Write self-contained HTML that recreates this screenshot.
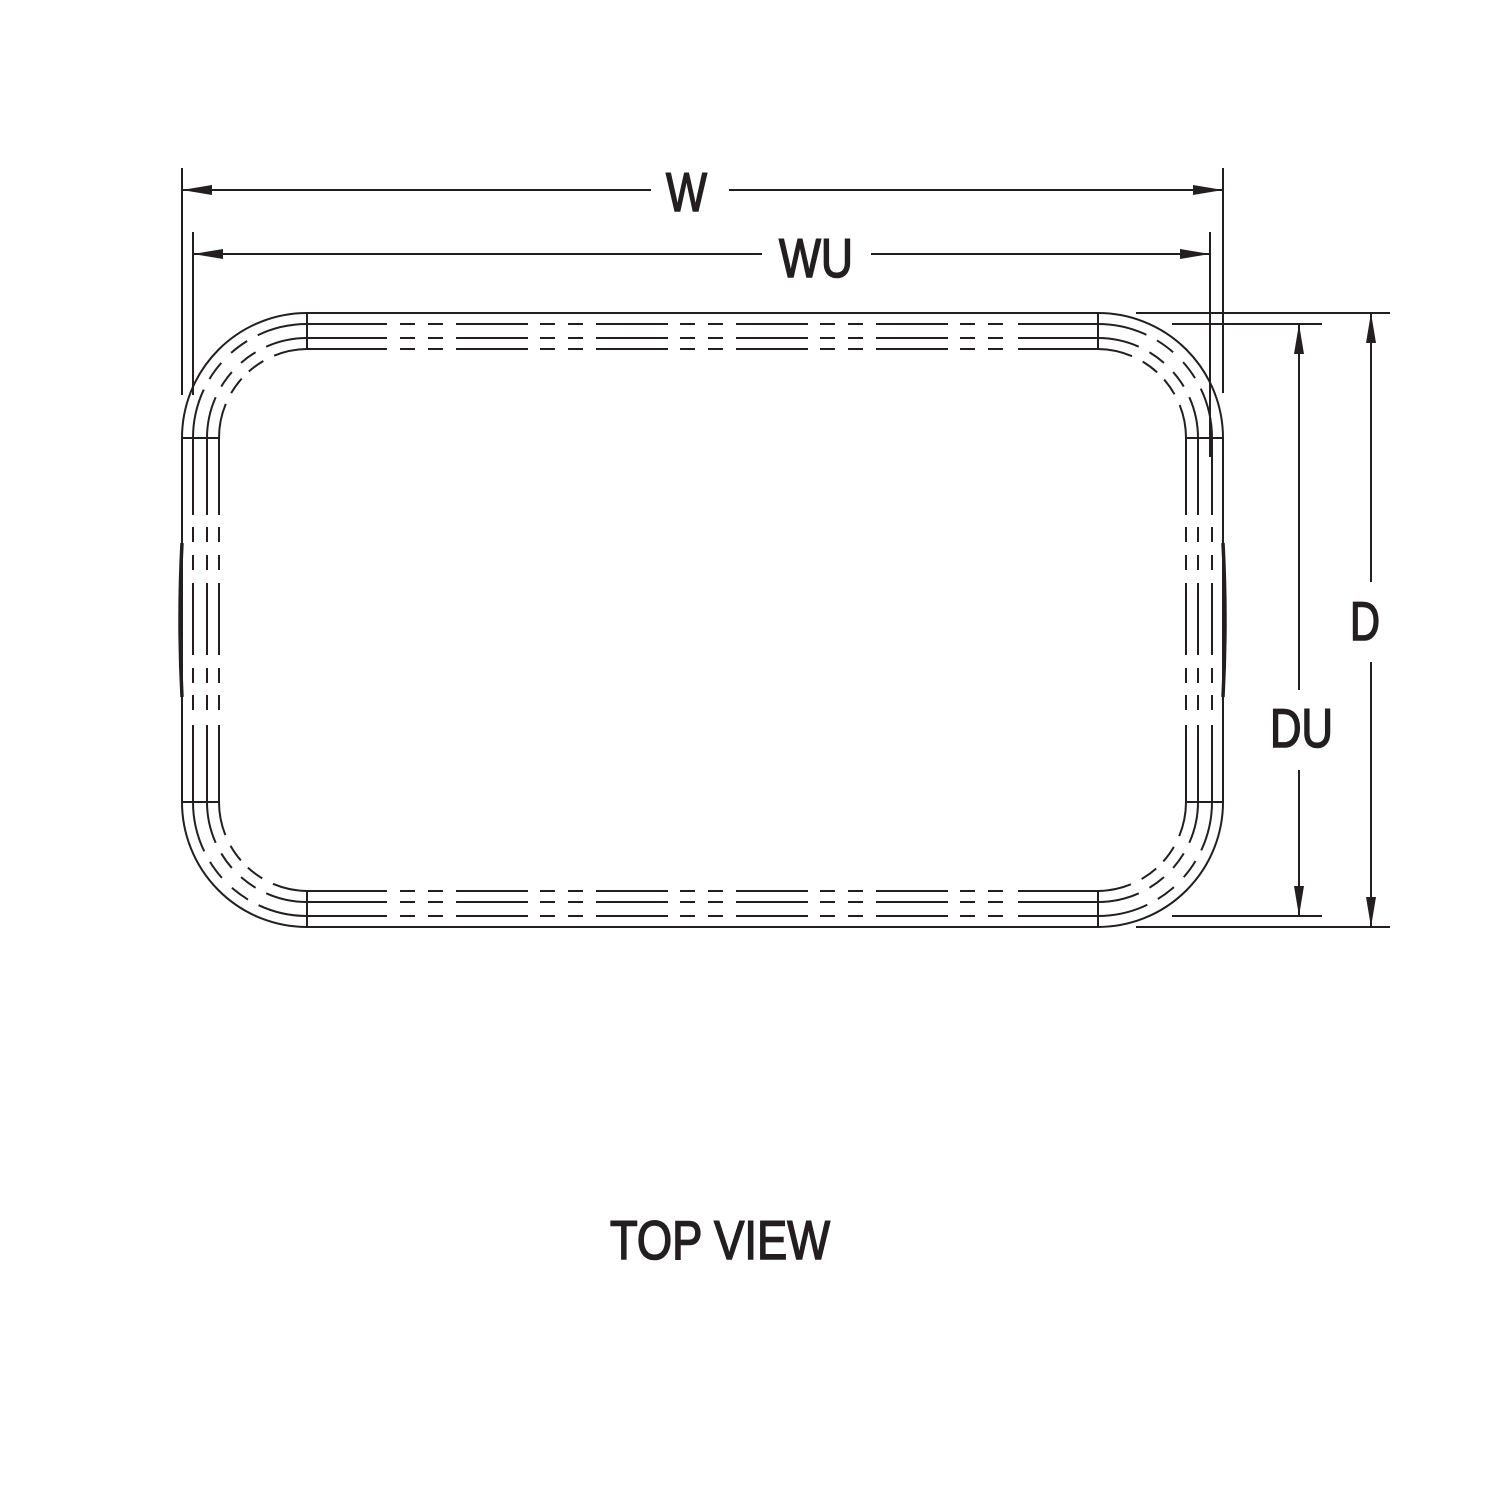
<!DOCTYPE html>
<html><head><meta charset="utf-8"><style>html,body{margin:0;padding:0;background:#fff}svg{display:block}</style></head>
<body>
<svg width="1500" height="1500" viewBox="0 0 1500 1500" xmlns="http://www.w3.org/2000/svg">
<defs>
<marker id="a" viewBox="0 0 30 10" refX="30" refY="5" markerWidth="30" markerHeight="10" markerUnits="userSpaceOnUse" orient="auto"><path d="M0 0L30 5L0 10z" fill="#231f20"/></marker>
</defs>
<g stroke="#231f20" stroke-width="2" fill="none">
<path d="M307 313H1098A125 125 0 0 1 1223 438V802A125 125 0 0 1 1098 927H307A125 125 0 0 1 182 802V438A125 125 0 0 1 307 313Z"/>
<g stroke-dasharray="80 13 15 13 15 13 72 12 15 13 15 13 72 12 15 13 15 13 72 12 15 13 15 13 72 12 15 13 15 15 80">
<line x1="307" y1="324" x2="1098" y2="324"/><line x1="307" y1="338" x2="1098" y2="338"/><line x1="307" y1="349" x2="1098" y2="349"/>
<line x1="307" y1="916" x2="1098" y2="916"/><line x1="307" y1="902" x2="1098" y2="902"/><line x1="307" y1="891" x2="1098" y2="891"/>
</g>
<g stroke-dasharray="77 12 15 13 15 13 72 13 15 12 15 15 77">
<line x1="193" y1="438" x2="193" y2="802"/><line x1="207" y1="438" x2="207" y2="802"/><line x1="219" y1="438" x2="219" y2="802"/>
<line x1="1212" y1="438" x2="1212" y2="802"/><line x1="1198" y1="438" x2="1198" y2="802"/><line x1="1186" y1="438" x2="1186" y2="802"/>
</g>
<g stroke-dasharray="50 12 20 14 20 12 51">
<path d="M193 438A114 114 0 0 1 307 324"/><path d="M1098 324A114 114 0 0 1 1212 438"/><path d="M1212 802A114 114 0 0 1 1098 916"/><path d="M307 916A114 114 0 0 1 193 802"/>
</g>
<g stroke-dasharray="42 12 18 13 18 12 42">
<path d="M207 438A100 100 0 0 1 307 338"/><path d="M1098 338A100 100 0 0 1 1198 438"/><path d="M1198 802A100 100 0 0 1 1098 902"/><path d="M307 902A100 100 0 0 1 207 802"/>
</g>
<g stroke-dasharray="35 12 18 10 18 12 35">
<path d="M219 438A89 89 0 0 1 307 349"/><path d="M1098 349A89 89 0 0 1 1186 438"/><path d="M1186 802A89 89 0 0 1 1098 891"/><path d="M307 891A89 89 0 0 1 219 802"/>
</g>
<line x1="307" y1="313" x2="307" y2="349"/><line x1="1098" y1="313" x2="1098" y2="349"/>
<line x1="307" y1="891" x2="307" y2="927"/><line x1="1098" y1="891" x2="1098" y2="927"/>
<line x1="182" y1="438" x2="219" y2="438"/><line x1="182" y1="802" x2="219" y2="802"/>
<line x1="1186" y1="438" x2="1223" y2="438"/><line x1="1186" y1="802" x2="1223" y2="802"/>
<path d="M182 543Q178 620 182 697" stroke-width="3.5"/>
<path d="M1223 543Q1227 620 1223 697" stroke-width="3.5"/>
<line x1="182" y1="168" x2="182" y2="395"/><line x1="193" y1="232" x2="193" y2="395"/>
<line x1="1223" y1="168" x2="1223" y2="393"/><line x1="1210" y1="232" x2="1210" y2="457"/>
<line x1="1136" y1="313" x2="1390" y2="313"/><line x1="1172" y1="324" x2="1322" y2="324"/>
<line x1="1136" y1="927" x2="1390" y2="927"/><line x1="1172" y1="916" x2="1322" y2="916"/>
<line x1="651" y1="190" x2="182" y2="190" marker-end="url(#a)"/><line x1="729" y1="190" x2="1223" y2="190" marker-end="url(#a)"/>
<line x1="762" y1="254" x2="193" y2="254" marker-end="url(#a)"/><line x1="871" y1="254" x2="1210" y2="254" marker-end="url(#a)"/>
<line x1="1371" y1="582" x2="1371" y2="313" marker-end="url(#a)"/><line x1="1371" y1="662" x2="1371" y2="927" marker-end="url(#a)"/>
<line x1="1299" y1="690" x2="1299" y2="324" marker-end="url(#a)"/><line x1="1299" y1="770" x2="1299" y2="916" marker-end="url(#a)"/>
</g>
<g fill="#231f20" stroke="#231f20" stroke-width="1.6" font-family="'Liberation Sans Narrow','Liberation Sans',sans-serif" font-size="55">
<text x="666" y="211" textLength="41" lengthAdjust="spacingAndGlyphs">W</text>
<text x="779" y="277" textLength="74" lengthAdjust="spacingAndGlyphs">WU</text>
<text x="1350" y="640" textLength="30" lengthAdjust="spacingAndGlyphs">D</text>
<text x="1270" y="747" textLength="63" lengthAdjust="spacingAndGlyphs">DU</text>
<text x="610" y="1259" textLength="220" lengthAdjust="spacingAndGlyphs">TOP VIEW</text>
</g>
</svg>
</body></html>
